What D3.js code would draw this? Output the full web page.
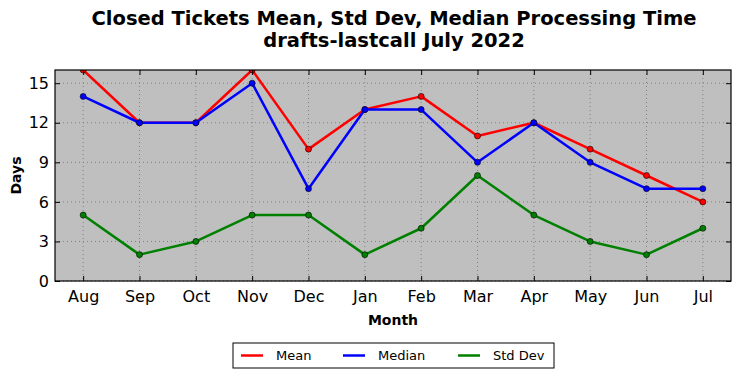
<!DOCTYPE html>
<html>
<head>
<meta charset="utf-8">
<script src="https://cdn.jsdelivr.net/npm/d3@7"></script>
<style>
  body { margin: 0; background: #fff; }
  svg { font-family: "DejaVu Sans", sans-serif; display: block; }
</style>
</head>
<body>
<svg id="chart" width="741" height="378"></svg>
<script>
const months = ["Aug", "Sep", "Oct", "Nov", "Dec", "Jan", "Feb", "Mar", "Apr", "May", "Jun", "Jul"];
const meanValues = [16, 12, 12, 16, 10, 13, 14, 11, 12, 10, 8, 6];
const medianValues = [14, 12, 12, 15, 7, 13, 13, 9, 12, 9, 7, 7];
const stdValues = [5, 2, 3, 5, 5, 2, 4, 8, 5, 3, 2, 4];
const yTicks = [0, 3, 6, 9, 12, 15];

const seriesNames = ["Mean", "Median", "Std Dev"];
const seriesColors = ["#ff0000", "#0000ff", "#008000"];

const margin = { top: 70, right: 10, bottom: 97, left: 55 };
const width = 741 - margin.left - margin.right;
const height = 378 - margin.top - margin.bottom;

const svg = d3.select("#chart");
const g = svg.append("g").attr("transform", `translate(${margin.left},${margin.top})`);

const x = d3.scaleLinear().domain([-0.5, months.length - 0.5]).range([0, width]);
const y = d3.scaleLinear().domain([0, 16]).range([height, 0]);

// background
g.append("rect").attr("width", width).attr("height", height).attr("fill", "#bfbfbf");

// grid
g.append("g").selectAll("line").data(months.map((d, i) => i)).join("line")
  .attr("x1", d => x(d)).attr("x2", d => x(d)).attr("y1", 0).attr("y2", height)
  .attr("stroke", "#808080").attr("stroke-width", 1).attr("stroke-dasharray", "1,3");
g.append("g").selectAll("line").data(yTicks).join("line")
  .attr("x1", 0).attr("x2", width).attr("y1", d => y(d)).attr("y2", d => y(d))
  .attr("stroke", "#808080").attr("stroke-width", 1).attr("stroke-dasharray", "1,3");

// lines
g.append("clipPath").attr("id", "clip").append("rect").attr("width", width).attr("height", height);
const plot = g.append("g").attr("clip-path", "url(#clip)");
const allSeries = [meanValues, medianValues, stdValues];
const line = d3.line().x((d, i) => x(i)).y(d => y(d));
allSeries.forEach((vals, k) => {
  plot.append("path").datum(vals).attr("d", line)
    .attr("fill", "none").attr("stroke", seriesColors[k]).attr("stroke-width", 2.5)
    .attr("stroke-linejoin", "round");
  plot.selectAll(null).data(vals).join("circle")
    .attr("cx", (d, i) => x(i)).attr("cy", d => y(d)).attr("r", 3)
    .attr("fill", seriesColors[k]).attr("stroke", "#000").attr("stroke-width", 0.6);
});

// axes
g.append("g").attr("transform", `translate(0,${height})`)
  .call(d3.axisBottom(x).tickValues(months.map((d, i) => i)).tickFormat(i => months[i])
    .tickSizeInner(-5).tickSizeOuter(0).tickPadding(10));
g.append("g")
  .call(d3.axisLeft(y).tickValues(yTicks).tickSizeInner(-5).tickSizeOuter(0).tickPadding(6));
g.append("g").call(d3.axisTop(x).tickValues(months.map((d, i) => i)).tickFormat("")
  .tickSizeInner(-5).tickSizeOuter(0));
g.append("g").attr("transform", `translate(${width},0)`)
  .call(d3.axisRight(y).tickValues(yTicks).tickFormat("").tickSizeInner(-5).tickSizeOuter(0));
g.selectAll(".domain").remove();
g.selectAll(".tick line").attr("stroke", "#000");
g.selectAll(".tick text").attr("font-size", 16).attr("fill", "#000")
  .attr("font-family", "DejaVu Sans, sans-serif");

// frame
g.append("rect").attr("width", width).attr("height", height)
  .attr("fill", "none").attr("stroke", "#000").attr("stroke-width", 1.2);

// titles
svg.append("text").attr("x", 394).attr("y", 25).attr("text-anchor", "middle")
  .attr("font-size", 19.5).attr("font-weight", "bold")
  .text("Closed Tickets Mean, Std Dev, Median Processing Time");
svg.append("text").attr("x", 394).attr("y", 47).attr("text-anchor", "middle")
  .attr("font-size", 19.5).attr("font-weight", "bold")
  .text("drafts-lastcall July 2022");
svg.append("text").attr("x", margin.left + width / 2).attr("y", 325).attr("text-anchor", "middle")
  .attr("font-size", 14).attr("font-weight", "bold").text("Month");
svg.append("text").attr("transform", `translate(21,${margin.top + height / 2}) rotate(-90)`)
  .attr("text-anchor", "middle").attr("font-size", 14).attr("font-weight", "bold").text("Days");

// legend
const legend = svg.append("g").attr("transform", "translate(233,343)");
legend.append("rect").attr("width", 321).attr("height", 25)
  .attr("fill", "#fff").attr("stroke", "#000").attr("stroke-width", 1);
const offsets = [8, 110, 225];
seriesNames.forEach((name, k) => {
  legend.append("line").attr("x1", offsets[k]).attr("x2", offsets[k] + 22)
    .attr("y1", 12.5).attr("y2", 12.5).attr("stroke", seriesColors[k]).attr("stroke-width", 2.5);
  legend.append("text").attr("x", offsets[k] + 35).attr("y", 17)
    .attr("font-size", 13).text(name);
});
</script>
</body>
</html>
